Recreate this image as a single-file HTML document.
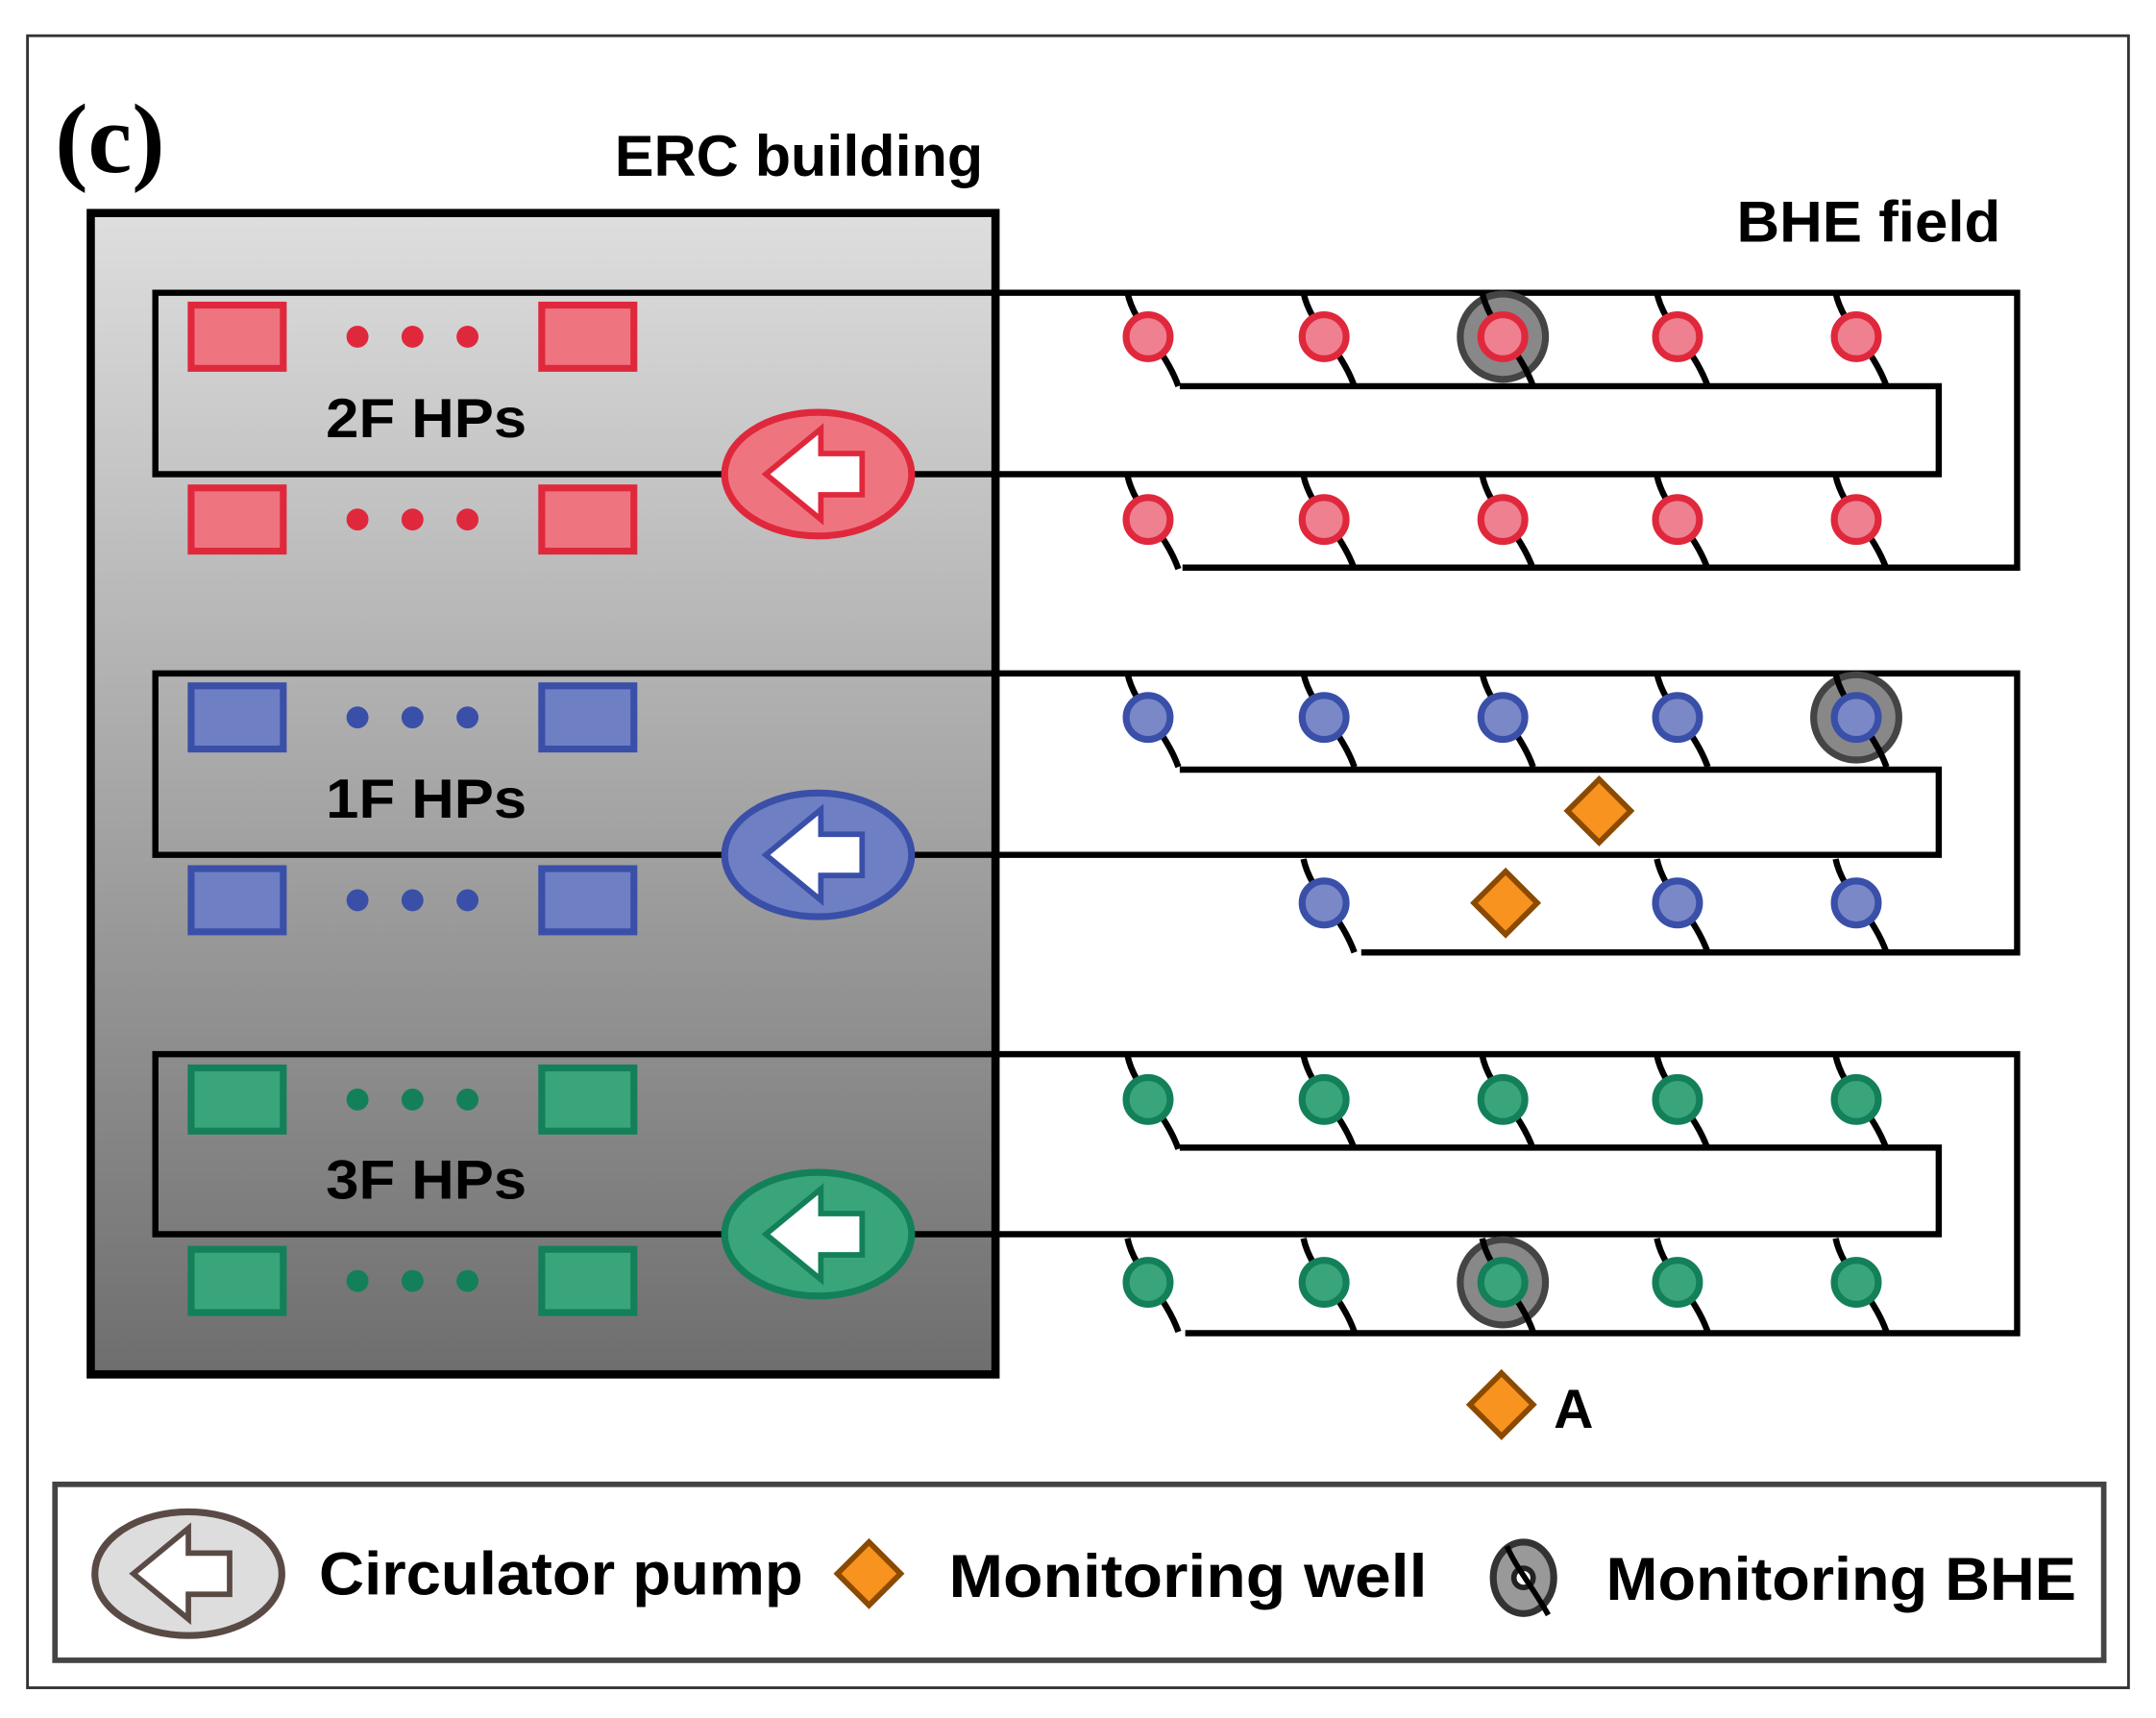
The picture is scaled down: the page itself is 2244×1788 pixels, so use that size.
<!DOCTYPE html>
<html><head><meta charset="utf-8"><style>html,body{margin:0;padding:0;background:#fff}svg{display:block}</style></head>
<body>
<svg width="2244" height="1788" viewBox="0 0 1568 1250" preserveAspectRatio="none" xmlns="http://www.w3.org/2000/svg">
<defs>
<linearGradient id="bg" x1="0" y1="0" x2="0" y2="1"><stop offset="0" stop-color="#dedede"/><stop offset="1" stop-color="#6e6e6e"/></linearGradient>
<path id="s" d="M-15,-32 C-10,-8 12,8 22,36" fill="none" stroke="#000" stroke-width="4.5"/>
</defs>
<rect x="20" y="26" width="1528" height="1202" fill="#fff" stroke="#333" stroke-width="2"/>
<text x="40" y="125" font-family="Liberation Serif,serif" font-weight="bold" font-size="72">(c)</text>
<text x="715" y="128" text-anchor="end" font-family="Liberation Sans,sans-serif" font-weight="bold" font-size="42" textLength="268" lengthAdjust="spacingAndGlyphs">ERC building</text>
<text x="1455" y="176" text-anchor="end" font-family="Liberation Sans,sans-serif" font-weight="bold" font-size="42" textLength="192" lengthAdjust="spacingAndGlyphs">BHE field</text>
<rect x="66" y="155" width="658" height="845" fill="url(#bg)" stroke="#000" stroke-width="6"/>

<g fill="none" stroke="#000" stroke-width="4.5">
<path d="M860,413 H1467 V213 H113 V345 H1410 V281 H858"/>
<path d="M990,693 H1467 V490 H113 V622 H1410 V560 H858"/>
<path d="M862,970 H1467 V767 H113 V898 H1410 V835 H858"/>
</g>

<g fill="#888" stroke="#444" stroke-width="5">
<circle cx="1093" cy="245" r="31"/><circle cx="1350" cy="522" r="31"/><circle cx="1093" cy="933" r="31"/>
</g>

<g stroke="#e0283c" stroke-width="5" fill="#ee8090">
<g transform="translate(835,245)"><use href="#s"/><circle r="16"/></g>
<g transform="translate(963,245)"><use href="#s"/><circle r="16"/></g>
<g transform="translate(1093,245)"><use href="#s"/><circle r="16"/></g>
<g transform="translate(1220,245)"><use href="#s"/><circle r="16"/></g>
<g transform="translate(1350,245)"><use href="#s"/><circle r="16"/></g>
<g transform="translate(835,378)"><use href="#s"/><circle r="16"/></g>
<g transform="translate(963,378)"><use href="#s"/><circle r="16"/></g>
<g transform="translate(1093,378)"><use href="#s"/><circle r="16"/></g>
<g transform="translate(1220,378)"><use href="#s"/><circle r="16"/></g>
<g transform="translate(1350,378)"><use href="#s"/><circle r="16"/></g>
</g>
<g stroke="#3a4fa8" stroke-width="5" fill="#7a88c8">
<g transform="translate(835,522)"><use href="#s"/><circle r="16"/></g>
<g transform="translate(963,522)"><use href="#s"/><circle r="16"/></g>
<g transform="translate(1093,522)"><use href="#s"/><circle r="16"/></g>
<g transform="translate(1220,522)"><use href="#s"/><circle r="16"/></g>
<g transform="translate(1350,522)"><use href="#s"/><circle r="16"/></g>
<g transform="translate(963,657)"><use href="#s"/><circle r="16"/></g>
<g transform="translate(1220,657)"><use href="#s"/><circle r="16"/></g>
<g transform="translate(1350,657)"><use href="#s"/><circle r="16"/></g>
</g>
<g stroke="#13805a" stroke-width="5" fill="#3aa57a">
<g transform="translate(835,800)"><use href="#s"/><circle r="16"/></g>
<g transform="translate(963,800)"><use href="#s"/><circle r="16"/></g>
<g transform="translate(1093,800)"><use href="#s"/><circle r="16"/></g>
<g transform="translate(1220,800)"><use href="#s"/><circle r="16"/></g>
<g transform="translate(1350,800)"><use href="#s"/><circle r="16"/></g>
<g transform="translate(835,933)"><use href="#s"/><circle r="16"/></g>
<g transform="translate(963,933)"><use href="#s"/><circle r="16"/></g>
<g transform="translate(1093,933)"><use href="#s"/><circle r="16"/></g>
<g transform="translate(1220,933)"><use href="#s"/><circle r="16"/></g>
<g transform="translate(1350,933)"><use href="#s"/><circle r="16"/></g>
</g>

<g fill="#f7931e" stroke="#8a4a00" stroke-width="4">
<polygon points="1163,567 1186,590 1163,613 1140,590"/>
<polygon points="1095,634 1118,657 1095,680 1072,657"/>
<polygon points="1092,999 1115,1022 1092,1045 1069,1022"/>
</g>
<text x="1130" y="1039" font-family="Liberation Sans,sans-serif" font-weight="bold" font-size="40">A</text>

<g stroke="#e0283c" stroke-width="5" fill="#ee7580">
<rect x="139" y="222" width="67" height="46"/><rect x="394" y="222" width="67" height="46"/>
<rect x="139" y="355" width="67" height="46"/><rect x="394" y="355" width="67" height="46"/>
<ellipse cx="595" cy="345" rx="68" ry="45"/>
<polygon points="557,345 597,312 597,330 627,330 627,360 597,360 597,378" fill="#fff" stroke-width="4"/>
</g>
<g fill="#e0283c"><circle cx="260" cy="245" r="8"/><circle cx="300" cy="245" r="8"/><circle cx="340" cy="245" r="8"/>
<circle cx="260" cy="378" r="8"/><circle cx="300" cy="378" r="8"/><circle cx="340" cy="378" r="8"/></g>
<g stroke="#3a4fa8" stroke-width="5" fill="#6f7fc4">
<rect x="139" y="499" width="67" height="46"/><rect x="394" y="499" width="67" height="46"/>
<rect x="139" y="632" width="67" height="46"/><rect x="394" y="632" width="67" height="46"/>
<ellipse cx="595" cy="622" rx="68" ry="45"/>
<polygon points="557,622 597,589 597,607 627,607 627,637 597,637 597,655" fill="#fff" stroke-width="4"/>
</g>
<g fill="#3a4fa8"><circle cx="260" cy="522" r="8"/><circle cx="300" cy="522" r="8"/><circle cx="340" cy="522" r="8"/>
<circle cx="260" cy="655" r="8"/><circle cx="300" cy="655" r="8"/><circle cx="340" cy="655" r="8"/></g>
<g stroke="#13805a" stroke-width="5" fill="#3aa57a">
<rect x="139" y="777" width="67" height="46"/><rect x="394" y="777" width="67" height="46"/>
<rect x="139" y="909" width="67" height="46"/><rect x="394" y="909" width="67" height="46"/>
<ellipse cx="595" cy="898" rx="68" ry="45"/>
<polygon points="557,898 597,865 597,883 627,883 627,913 597,913 597,931" fill="#fff" stroke-width="4"/>
</g>
<g fill="#13805a"><circle cx="260" cy="800" r="8"/><circle cx="300" cy="800" r="8"/><circle cx="340" cy="800" r="8"/>
<circle cx="260" cy="932" r="8"/><circle cx="300" cy="932" r="8"/><circle cx="340" cy="932" r="8"/></g>
<g font-family="Liberation Sans,sans-serif" font-weight="bold" font-size="40">
<text x="237" y="318" textLength="146" lengthAdjust="spacingAndGlyphs">2F HPs</text>
<text x="237" y="595" textLength="146" lengthAdjust="spacingAndGlyphs">1F HPs</text>
<text x="237" y="872" textLength="146" lengthAdjust="spacingAndGlyphs">3F HPs</text>
</g>

<rect x="40" y="1080" width="1490" height="128" fill="#fff" stroke="#444" stroke-width="4"/>
<ellipse cx="137" cy="1145" rx="68" ry="45" fill="#ddd" stroke="#5a4a45" stroke-width="5"/>
<polygon points="97,1145 137,1112 137,1130 167,1130 167,1160 137,1160 137,1178" fill="#fff" stroke="#5a4a45" stroke-width="4"/>
<polygon points="632,1122 655,1145 632,1168 609,1145" fill="#f7931e" stroke="#8a4a00" stroke-width="4"/>
<ellipse cx="1108" cy="1148" rx="22" ry="26" fill="#999" stroke="#333" stroke-width="5"/>
<circle cx="1108" cy="1148" r="7" fill="#fff" stroke="#222" stroke-width="4"/>
<path d="M1096,1125 C1102,1140 1115,1155 1126,1175" fill="none" stroke="#000" stroke-width="4"/>
<g font-family="Liberation Sans,sans-serif" font-weight="bold" font-size="44">
<text x="232" y="1160" textLength="352" lengthAdjust="spacingAndGlyphs">Circulator pump</text>
<text x="690" y="1162" textLength="348" lengthAdjust="spacingAndGlyphs">Monitoring well</text>
<text x="1168" y="1164" textLength="342" lengthAdjust="spacingAndGlyphs">Monitoring BHE</text>
</g>
</svg>
</body></html>
